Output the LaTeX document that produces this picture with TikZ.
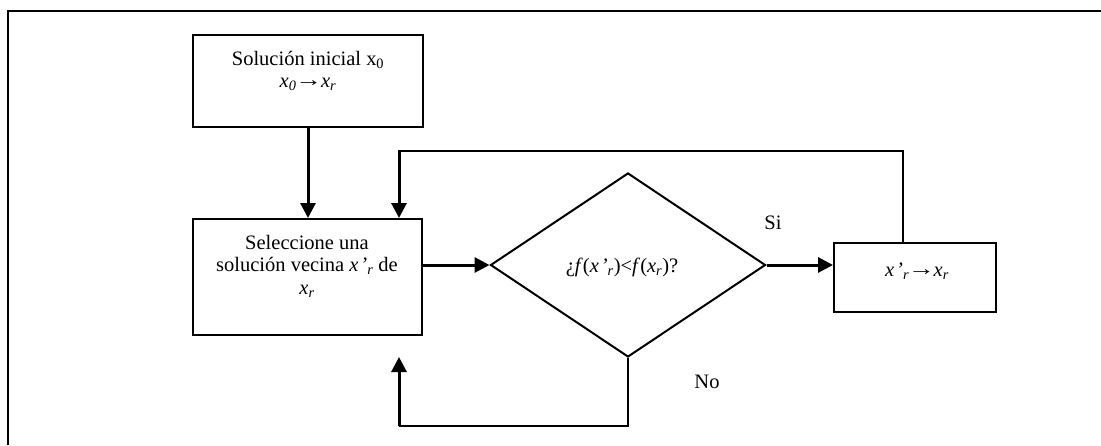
\documentclass[tikz,border=0pt]{standalone}
\usepackage{fontspec}
\setmainfont{Liberation Serif}
\usetikzlibrary{shapes.geometric,arrows.meta}
\newcommand{\xprm}{\textit{x\kern2pt’\textsubscript{r}}}
\newcommand{\longarr}{\kern-1pt\raisebox{0.5pt}{\scalebox{1.3}[1]{→}}\kern-1pt}
\begin{document}
\begin{tikzpicture}[x=1pt,y=-1pt,
  boxnode/.style={draw,line width=2pt,inner sep=0pt},
  txt/.style={font=\fontsize{20.5}{24}\selectfont,inner sep=0pt},
  flow/.style={line width=3pt,-{Triangle[length=15pt,width=15pt]}},
  back/.style={line width=2.2pt}]
\useasboundingbox (0,0) rectangle (1101,445);
\fill[white] (0,0) rectangle (1101,445);
% outer frame (left and top edges visible)
\draw[line width=2pt] (8,445) -- (8,11) -- (1101,11);
% boxes
\node[boxnode,minimum width=230pt,minimum height=92pt] (b1) at (308,81) {};
\node[boxnode,minimum width=229pt,minimum height=116pt] (b2) at (307.5,277) {};
\node[draw,line width=2pt,diamond,inner sep=0pt,minimum width=275pt,minimum height=184pt] (d) at (628,265) {};
\node[boxnode,minimum width=162pt,minimum height=69pt] (b3) at (915,277.5) {};
% texts
\node[txt] (t1) at (308,60) {Solución inicial x\textsubscript{0}};
\node[txt] (t1b) at (308,84) {\textit{x\textsubscript{0}}\longarr\textit{x\textsubscript{r}}};
\node[txt] (t2a) at (307,242) {Seleccione una};
\node[txt] (t2b) at (307,266) {solución vecina \xprm\ de};
\node[txt] (t2c) at (307,291) {\textit{x\textsubscript{r}}};
\node[txt] (td) at (622,267) {¿\textit{f}(\xprm)<\textit{f}(\textit{x\textsubscript{r}})?};
\node[txt] (t3) at (917,271) {\xprm\longarr\textit{x\textsubscript{r}}};
\node[txt] (si) at (773,223) {Si};
\node[txt] (no) at (707,382) {No};
% connectors
\draw[flow] (b1.south) -- (b2.north -| b1.south);
\draw[flow] (b2.east |- d.west) -- (d.west);
\draw[flow] (d.east) -- (d.east -| b3.west);
\coordinate (topL) at (399,151);
\coordinate (topR) at (903,151);
\draw[back] (topR |- b3.north) -- (topR) -- (topL);
\draw[flow] ([xshift=-1pt]topL) -- (topL) -- (topL |- b2.north);
\coordinate (botR) at (d.south |- 0,426);
\coordinate (botL) at (399,426);
\coordinate (botEnd) at (399,357);
\draw[back] (d.south) -- (botR) -- (botL);
\draw[flow] ([yshift=1pt]botL) -- (botL) -- (botEnd);
\end{tikzpicture}
\end{document}
